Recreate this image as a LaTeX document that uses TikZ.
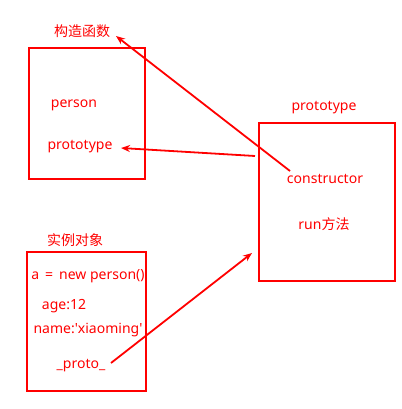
\documentclass[tikz,border=0pt]{standalone}
\usepackage{fontspec}
\setmainfont{Noto Sans}
\newfontfamily\cjk{Noto Sans CJK SC}
\usetikzlibrary{arrows.meta}
\begin{document}
\begin{tikzpicture}[x=1pt,y=-1pt,
  box/.style={draw=red,line width=2pt},
  lbl/.style={text=red,font=\fontsize{14}{16}\selectfont,inner sep=0pt},
  arr/.style={draw=red,line width=1.8pt,-{Stealth[length=9pt,width=7pt]}}]
\useasboundingbox (0,0) rectangle (401,409);
\draw[box] (29,48) rectangle (145,179);
\draw[box] (27,252) rectangle (146,391);
\draw[box] (259,123) rectangle (395,281);
\node[lbl] (ctor) at (82,31) {\cjk 构造函数};
\node[lbl] (person) at (74,105) {person};
\node[lbl] (pp) at (80,147) {prototype};
\node[lbl] (inst) at (75,240) {\cjk 实例对象};
\node[lbl] (anew) at (88,276) {a\, = \,new person()};
\node[lbl] (age) at (64,306) {age:12};
\node[lbl] (name) at (88,330) {name:\textquotesingle xiaoming\textquotesingle};
\node[lbl] (proto) at (81,366) {\_proto\_};
\node[lbl] (ptitle) at (324,108) {prototype};
\node[lbl] (cons) at (325,179) {constructor};
\node[lbl] (run) at (324,224) {run{\cjk 方法}};
\coordinate (c1) at (290,171);
\coordinate (c1t) at (116,36);
\coordinate (c2) at (255,156);
\coordinate (c2t) at (121,148);
\coordinate (c3) at (111,363);
\coordinate (c3t) at (252,253);
\draw[arr] (c1) -- (c1t);
\draw[arr] (c2) -- (c2t);
\draw[arr] (c3) -- (c3t);
\end{tikzpicture}
\end{document}
